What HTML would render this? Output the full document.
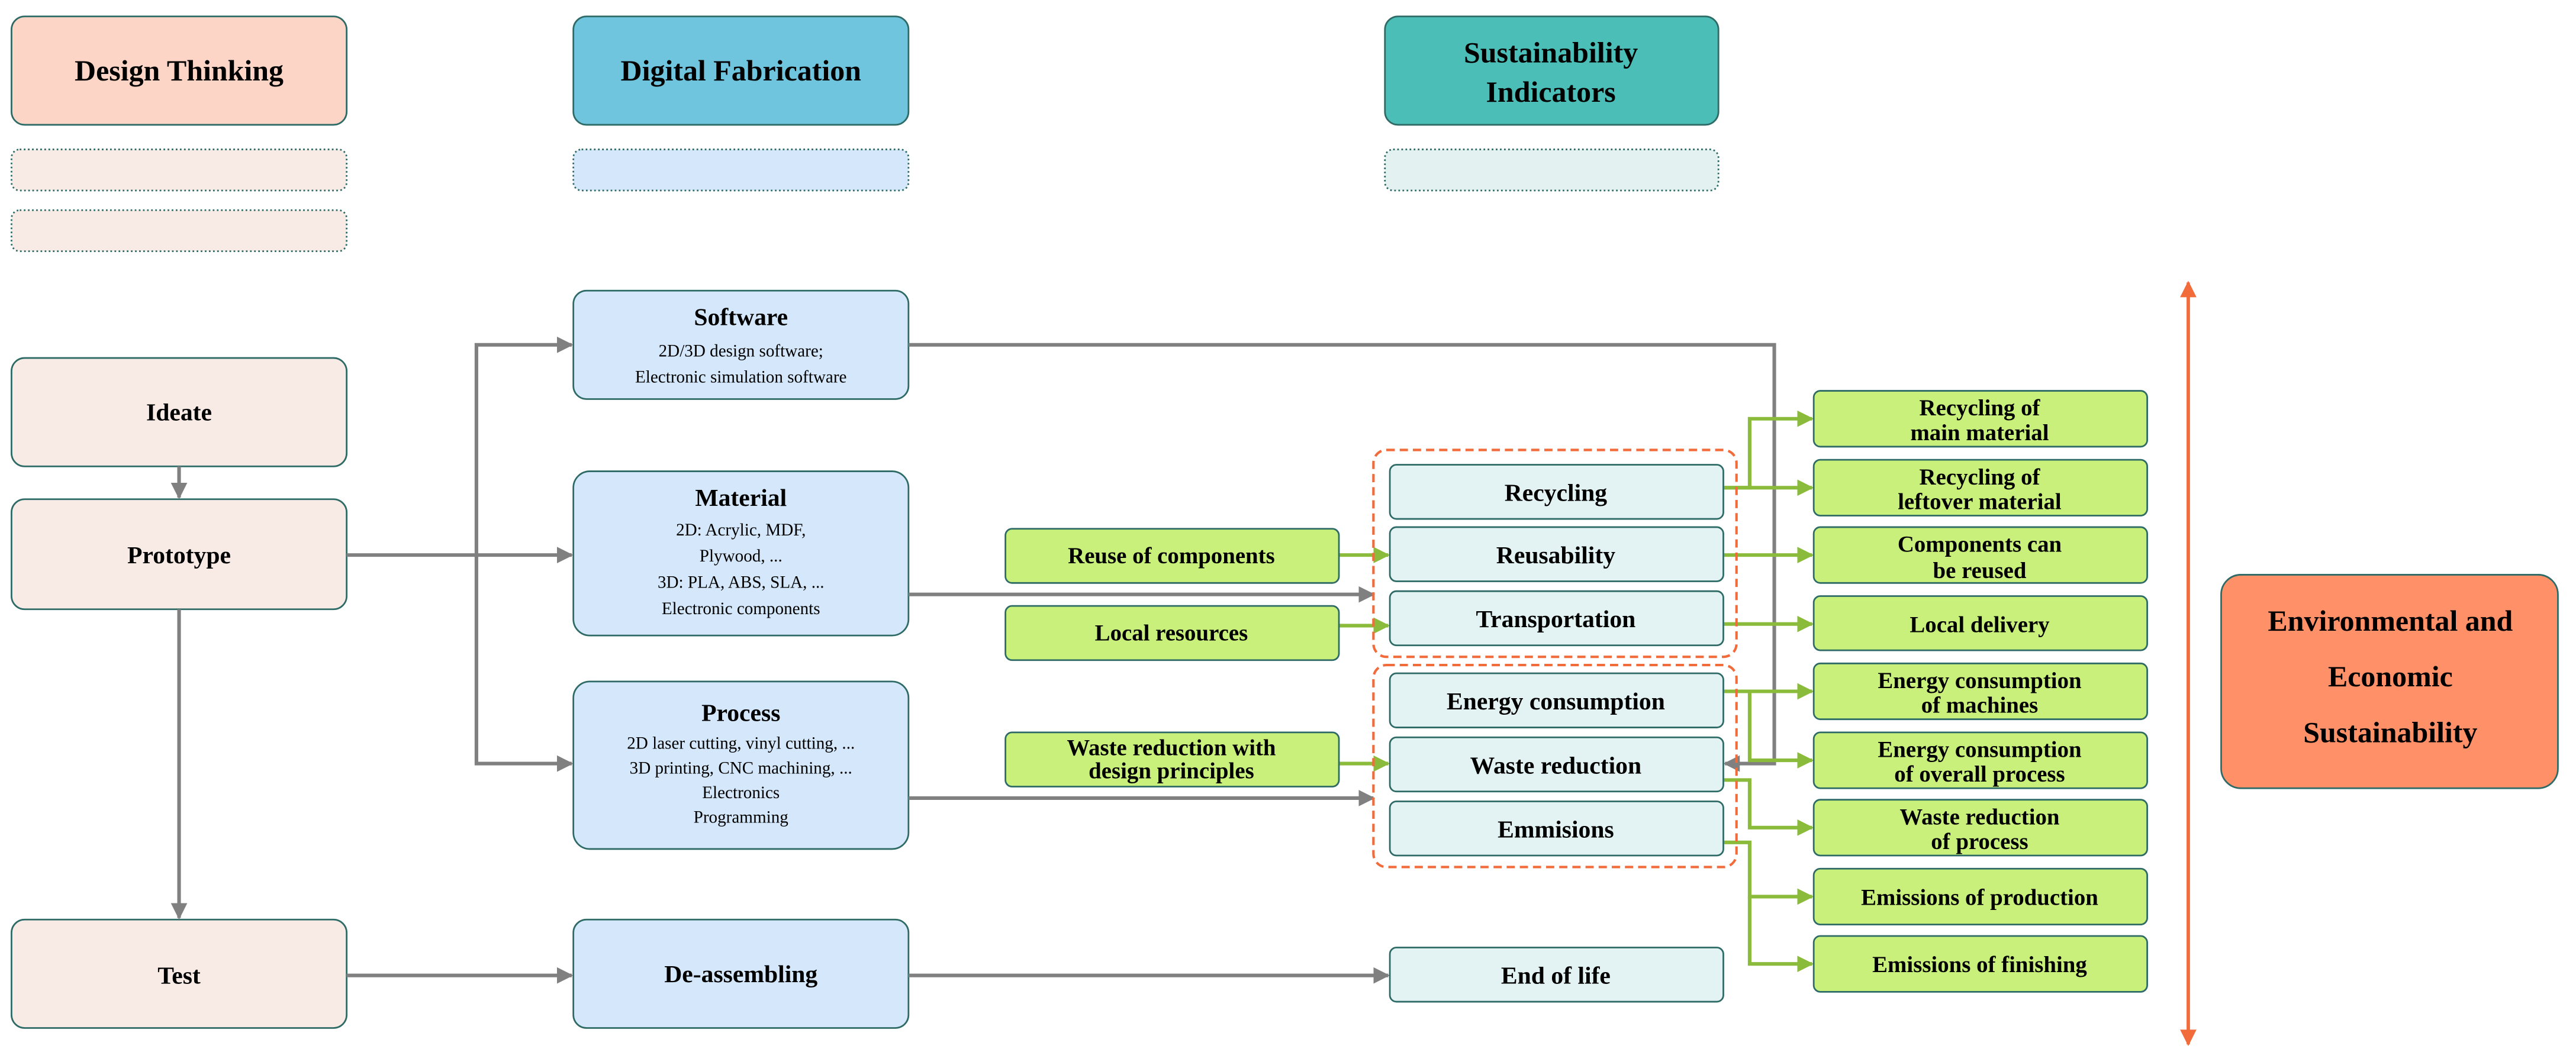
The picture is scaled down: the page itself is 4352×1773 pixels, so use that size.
<!DOCTYPE html>
<html><head><meta charset="utf-8"><style>
html,body{margin:0;padding:0;background:#fff}
svg{display:block}
text{font-family:"Liberation Serif",serif;font-weight:bold;fill:#000;text-anchor:middle}
.s{font-weight:normal;font-size:10.5px}
</style></head><body>
<svg width="4352" height="1773" viewBox="0 0 1568 638.8" xmlns="http://www.w3.org/2000/svg">
<defs>
<marker id="ag" markerWidth="10" markerHeight="10" refX="9" refY="5" orient="auto" markerUnits="userSpaceOnUse"><path d="M0,0 L10,5 L0,10 Z" fill="#808080"/></marker>
<marker id="agr" markerWidth="10" markerHeight="10" refX="9" refY="5" orient="auto" markerUnits="userSpaceOnUse"><path d="M0,0 L10,5 L0,10 Z" fill="#8bbb3a"/></marker>
<marker id="ao" markerWidth="10" markerHeight="10" refX="9" refY="5" orient="auto" markerUnits="userSpaceOnUse"><path d="M0,0 L10,5 L0,10 Z" fill="#f26b3a"/></marker>
</defs>
<g stroke="#2e6b66" stroke-width="1">
<rect x="7" y="10" width="204" height="66" rx="8" fill="#fdd5c6"/>
<rect x="349" y="10" width="204" height="66" rx="8" fill="#6fc4de"/>
<rect x="843" y="10" width="203" height="66" rx="8" fill="#4bbeb8"/>
<rect x="7" y="91" width="204" height="25" rx="5" fill="#f8ebe6" stroke-dasharray="1,1.5"/>
<rect x="7" y="128" width="204" height="25" rx="5" fill="#f8ebe6" stroke-dasharray="1,1.5"/>
<rect x="349" y="91" width="204" height="25" rx="5" fill="#d5e8fb" stroke-dasharray="1,1.5"/>
<rect x="843" y="91" width="203" height="25" rx="5" fill="#e3f2f1" stroke-dasharray="1,1.5"/>
<rect x="7" y="218" width="204" height="66" rx="8" fill="#f8ebe6"/>
<rect x="7" y="304" width="204" height="67" rx="8" fill="#f8ebe6"/>
<rect x="7" y="560" width="204" height="66" rx="8" fill="#f8ebe6"/>
<rect x="349" y="177" width="204" height="66" rx="8" fill="#d5e8fb"/>
<rect x="349" y="287" width="204" height="100" rx="10" fill="#d5e8fb"/>
<rect x="349" y="415" width="204" height="102" rx="10" fill="#d5e8fb"/>
<rect x="349" y="560" width="204" height="66" rx="8" fill="#d5e8fb"/>
<rect x="1352" y="350" width="205" height="130" rx="12" fill="#ff9068"/>
</g>
<g stroke="#808080" stroke-width="2.2" fill="none">
<line x1="109" y1="284" x2="109" y2="303" marker-end="url(#ag)"/>
<line x1="109" y1="371" x2="109" y2="559" marker-end="url(#ag)"/>
<line x1="211" y1="338" x2="348" y2="338" marker-end="url(#ag)"/>
<polyline points="290,338 290,210 348,210" marker-end="url(#ag)"/>
<polyline points="290,338 290,465 348,465" marker-end="url(#ag)"/>
<line x1="211" y1="594" x2="348" y2="594" marker-end="url(#ag)"/>
<line x1="553" y1="594" x2="845" y2="594" marker-end="url(#ag)"/>
<polyline points="553,210 1080,210 1080,465 1050,465" marker-end="url(#ag)"/>
<line x1="553" y1="362" x2="836" y2="362" marker-end="url(#ag)"/>
<line x1="553" y1="486" x2="836" y2="486" marker-end="url(#ag)"/>
</g>
<g stroke="#8bbb3a" stroke-width="2.2" fill="none">
<line x1="815" y1="338" x2="845" y2="338" marker-end="url(#agr)"/>
<line x1="815" y1="381" x2="845" y2="381" marker-end="url(#agr)"/>
<line x1="815" y1="465" x2="845" y2="465" marker-end="url(#agr)"/>
<line x1="1049" y1="297" x2="1103" y2="297" marker-end="url(#agr)"/>
<polyline points="1049,297 1065,297 1065,255 1103,255" marker-end="url(#agr)"/>
<line x1="1049" y1="338" x2="1103" y2="338" marker-end="url(#agr)"/>
<line x1="1049" y1="380" x2="1103" y2="380" marker-end="url(#agr)"/>
<line x1="1049" y1="421" x2="1103" y2="421" marker-end="url(#agr)"/>
<polyline points="1065,421 1065,463 1103,463" marker-end="url(#agr)"/>
<polyline points="1049,475 1065,475 1065,504 1103,504" marker-end="url(#agr)"/>
<polyline points="1049,513 1065,513 1065,546 1103,546" marker-end="url(#agr)"/>
<polyline points="1065,546 1065,587 1103,587" marker-end="url(#agr)"/>
</g>
<line x1="1332" y1="632" x2="1332" y2="172" stroke="#f26b3a" stroke-width="2" marker-end="url(#ao)"/>
<line x1="1332" y1="176" x2="1332" y2="636" stroke="#f26b3a" stroke-width="2" marker-end="url(#ao)"/>
<g fill="none" stroke="#f26b3a" stroke-width="1.5" stroke-dasharray="5,3">
<rect x="836" y="274" width="221" height="126" rx="8"/>
<rect x="836" y="405" width="221" height="123" rx="8"/>
</g>
<g stroke="#2e6b66" stroke-width="1" fill="#e3f2f2">
<rect x="846" y="283" width="203" height="33" rx="4"/>
<rect x="846" y="321" width="203" height="33" rx="4"/>
<rect x="846" y="360" width="203" height="33" rx="4"/>
<rect x="846" y="410" width="203" height="33" rx="4"/>
<rect x="846" y="449" width="203" height="33" rx="4"/>
<rect x="846" y="488" width="203" height="33" rx="4"/>
<rect x="846" y="577" width="203" height="33" rx="4"/>
</g>
<g stroke="#2e6b66" stroke-width="1" fill="#c8f07a">
<rect x="612" y="322" width="203" height="33" rx="4"/>
<rect x="612" y="369" width="203" height="33" rx="4"/>
<rect x="612" y="446" width="203" height="33" rx="4"/>
<rect x="1104" y="238" width="203" height="34" rx="4"/>
<rect x="1104" y="280" width="203" height="34" rx="4"/>
<rect x="1104" y="321" width="203" height="34" rx="4"/>
<rect x="1104" y="363" width="203" height="33" rx="4"/>
<rect x="1104" y="404" width="203" height="34" rx="4"/>
<rect x="1104" y="446" width="203" height="34" rx="4"/>
<rect x="1104" y="487" width="203" height="34" rx="4"/>
<rect x="1104" y="529" width="203" height="34" rx="4"/>
<rect x="1104" y="570" width="203" height="34" rx="4"/>
</g>
<g font-size="18">
<text x="109" y="49">Design Thinking</text>
<text x="451" y="49">Digital Fabrication</text>
<text x="944" y="38">Sustainability</text>
<text x="944" y="62">Indicators</text>
<text x="1455" y="384">Environmental and</text>
<text x="1455" y="418">Economic</text>
<text x="1455" y="452">Sustainability</text>
</g>
<g font-size="15">
<text x="109" y="256">Ideate</text>
<text x="109" y="343">Prototype</text>
<text x="109" y="599">Test</text>
<text x="451" y="198">Software</text>
<text x="451" y="308">Material</text>
<text x="451" y="439">Process</text>
<text x="451" y="598">De-assembling</text>
<text x="947" y="305">Recycling</text>
<text x="947" y="343">Reusability</text>
<text x="947" y="382">Transportation</text>
<text x="947" y="432">Energy consumption</text>
<text x="947" y="471">Waste reduction</text>
<text x="947" y="510">Emmisions</text>
<text x="947" y="599">End of life</text>
</g>
<text class="s" x="451" y="217">2D/3D design software;</text>
<text class="s" x="451" y="233">Electronic simulation software</text>
<text class="s" x="451" y="326">2D: Acrylic, MDF,</text>
<text class="s" x="451" y="342">Plywood, ...</text>
<text class="s" x="451" y="358">3D: PLA, ABS, SLA, ...</text>
<text class="s" x="451" y="374">Electronic components</text>
<text class="s" x="451" y="456">2D laser cutting, vinyl cutting, ...</text>
<text class="s" x="451" y="471">3D printing, CNC machining, ...</text>
<text class="s" x="451" y="486">Electronics</text>
<text class="s" x="451" y="501">Programming</text>
<g font-size="14">
<text x="713" y="343">Reuse of components</text>
<text x="713" y="390">Local resources</text>
<text x="713" y="460">Waste reduction with</text>
<text x="713" y="474">design principles</text>
<text x="1205" y="253">Recycling of</text>
<text x="1205" y="268">main material</text>
<text x="1205" y="295">Recycling of</text>
<text x="1205" y="310">leftover material</text>
<text x="1205" y="336">Components can</text>
<text x="1205" y="352">be reused</text>
<text x="1205" y="385">Local delivery</text>
<text x="1205" y="419">Energy consumption</text>
<text x="1205" y="434">of machines</text>
<text x="1205" y="461">Energy consumption</text>
<text x="1205" y="476">of overall process</text>
<text x="1205" y="502">Waste reduction</text>
<text x="1205" y="517">of process</text>
<text x="1205" y="551">Emissions of production</text>
<text x="1205" y="592">Emissions of finishing</text>
</g>
</svg>
</body></html>
